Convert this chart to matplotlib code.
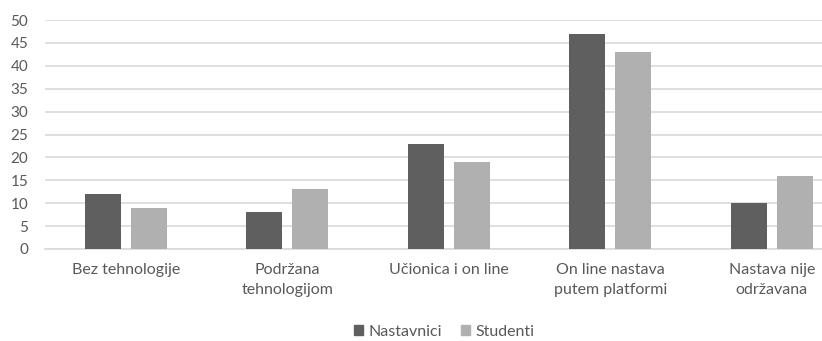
import numpy as np
import matplotlib
matplotlib.use("Agg")
import matplotlib.pyplot as plt
from matplotlib.patches import Patch

categories = ["Bez tehnologije", "Podržana\ntehnologijom", "Učionica i on line",
              "On line nastava\nputem platformi", "Nastava nije\nodržavana"]
nastavnici = [12, 8, 23, 47, 10]
studenti = [9, 13, 19, 43, 16]
yticks = list(range(0, 55, 5))

DARK = "#5f5f5f"
LIGHT = "#b0b0b0"
TXT = "#595959"
GRID = "#d9d9d9"

plt.rcParams["font.family"] = ["Lato", "DejaVu Sans"]

fig = plt.figure(figsize=(8.22, 3.41), dpi=100)
ax = fig.add_axes([45 / 822, 1 - 249 / 341, 1 - 45 / 822, (249 - 20) / 341])

x = np.arange(len(categories))
w = 0.223
off = 0.142
ax.bar(x - off, nastavnici, w, color=DARK, zorder=3, label="Nastavnici")
ax.bar(x + off, studenti, w, color=LIGHT, zorder=3, label="Studenti")

ax.set_xlim(-0.5, 4.31)
ax.set_ylim(0, 50)
ax.set_yticks(yticks)
ax.set_xticks(x)
ax.set_xticklabels(categories, fontsize=11.5, color=TXT, linespacing=1.6)
ax.tick_params(axis="y", labelsize=11, labelcolor=TXT, length=0, pad=12)
ax.tick_params(axis="x", length=0, pad=10)
ax.yaxis.grid(True, color=GRID, linewidth=1.2, zorder=0)
for s in ["top", "right", "left"]:
    ax.spines[s].set_visible(False)
ax.spines["bottom"].set_color(GRID)
ax.spines["bottom"].set_linewidth(1.2)

handles = [Patch(color=DARK, label="Nastavnici"), Patch(color=LIGHT, label="Studenti")]
fig.legend(handles=handles, loc="lower center", bbox_to_anchor=(0.54, 0.0), ncol=2,
           frameon=False, fontsize=11.5, labelcolor=TXT, handlelength=0.6,
           handleheight=0.6, handletextpad=0.3, columnspacing=1.2,
           borderaxespad=0.0, borderpad=0.15)

fig.savefig("out.png", dpi=100)
